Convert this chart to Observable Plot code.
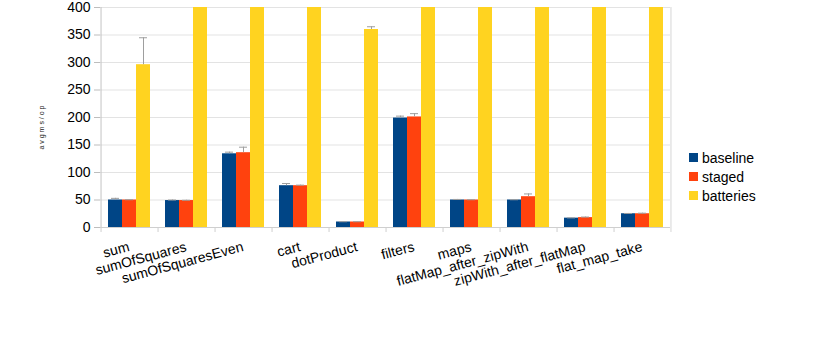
<!DOCTYPE html>
<html>
<head>
<meta charset="utf-8">
<script src="https://cdn.jsdelivr.net/npm/d3@7"></script>
<script src="https://cdn.jsdelivr.net/npm/@observablehq/plot@0.6"></script>
<style>
  html, body { margin: 0; padding: 0; background: #fff; }
  #wrap { position: relative; width: 814px; height: 357px; font-family: "Liberation Sans", Arial, sans-serif; }
  #legend { position: absolute; left: 689px; top: 148px; font-size: 14px; color: #000; }
  #legend .item { display: flex; align-items: center; height: 19px; }
  #legend .sw { width: 9px; height: 9px; margin-right: 4px; }
</style>
</head>
<body>
<div id="wrap"><div id="chart"></div><div id="legend"></div></div>
<script>
const categories = ["sum", "sumOfSquares", "sumOfSquaresEven", "cart", "dotProduct", "filters", "maps", "flatMap_after_zipWith", "zipWith_after_flatMap", "flat_map_take"];
const series = ["baseline", "staged", "batteries"];
const colors = ["#004586", "#ff420e", "#ffd320"];
const baseline = [50, 49, 134, 76, 10, 199, 50, 50, 17, 25];
const staged = [50, 49, 136, 76, 10, 201, 50, 56, 18, 25];
// batteries values above 400 are cut off by the axis in the reference
const batteries = [296, 400, 400, 400, 360, 400, 400, 400, 400, 400];
const baselineErr = [3, 1, 3, 4, 0.5, 3.5, 1, 0.5, 0.5, 0.5];
const stagedErr = [0.5, 0.5, 10, 1, 0.5, 6, 0.5, 5, 1, 1];
const batteriesErr = [49, 0, 0, 0, 5, 0, 0, 0, 0, 0];
const yTicks = [0, 50, 100, 150, 200, 250, 300, 350, 400];
const yTitle = "a v g m s / o p";

const values = [baseline, staged, batteries];
const errs = [baselineErr, stagedErr, batteriesErr];
const data = [];
categories.forEach((c, i) => series.forEach((s, j) => {
  data.push({cat: c, series: s, value: values[j][i], err: errs[j][i]});
}));
const errData = data.filter(d => d.err > 0);

const width = 814, height = 357;
const mL = 100, mR = 144, mT = 7, mB = 130;
const bw = (width - mL - mR) / categories.length;
const padOuter = 0.47;
const step = bw / (series.length + 2 * padOuter);

const firstCat = [{cat: categories[0]}];
const lastCat = [{cat: categories[categories.length - 1]}];
const allCats = categories.map(c => ({cat: c}));

const chart = Plot.plot({
  width, height,
  marginLeft: mL, marginRight: mR, marginTop: mT, marginBottom: mB,
  style: {fontFamily: "Liberation Sans, Arial, sans-serif", fontSize: "14px", color: "#000", background: "#fff"},
  fx: {domain: categories, padding: 0, axis: "bottom", label: null, tickRotate: -15, tickSize: 0, tickPadding: 19},
  x: {domain: series, paddingInner: 0, paddingOuter: padOuter, axis: null},
  y: {domain: [0, 400], axis: null},
  color: {domain: series, range: colors},
  marks: [
    Plot.gridY(yTicks, {stroke: "#e3e3e3", strokeOpacity: 1, strokeWidth: 1}),
    Plot.axisY({facetAnchor: "left", ticks: yTicks, tickSize: 6, tickPadding: 4, stroke: "#bdbdbd", label: null, fontSize: 14}),
    Plot.ruleY([0], {stroke: "#cfcfcf"}),
    Plot.ruleY([400], {stroke: "#e3e3e3"}),
    // category boundary ticks below the axis
    Plot.ruleX(allCats, {fx: "cat", x: () => series[0], dx: -step, insetTop: height - mT - mB, insetBottom: -5, stroke: "#cfcfcf"}),
    Plot.ruleX(lastCat, {fx: "cat", x: () => series[series.length - 1], dx: step, insetBottom: -5, stroke: "#d6d6d6"}),
    Plot.ruleX(firstCat, {fx: "cat", x: () => series[0], dx: -step, stroke: "#c4c4c4"}),
    Plot.barY(data, {fx: "cat", x: "series", y: "value", fill: "series", clip: true}),
    Plot.ruleX(errData, {fx: "cat", x: "series", y1: "value", y2: d => d.value + d.err, stroke: "#9e9e9e", strokeWidth: 1}),
    Plot.tickY(errData, {fx: "cat", x: "series", y: d => d.value + d.err, stroke: "#9e9e9e", strokeWidth: 1, insetLeft: 3, insetRight: 3}),
    Plot.text(firstCat, {fx: "cat", text: () => yTitle, frameAnchor: "left", dx: -59, dy: 32, rotate: -90, fontSize: 7, fill: "#222"})
  ]
});
document.getElementById("chart").appendChild(chart);

const legend = document.getElementById("legend");
series.forEach((s, j) => {
  const item = document.createElement("div");
  item.className = "item";
  const sw = document.createElement("div");
  sw.className = "sw";
  sw.style.background = colors[j];
  const t = document.createElement("span");
  t.textContent = s;
  item.appendChild(sw);
  item.appendChild(t);
  legend.appendChild(item);
});
</script>
</body>
</html>
